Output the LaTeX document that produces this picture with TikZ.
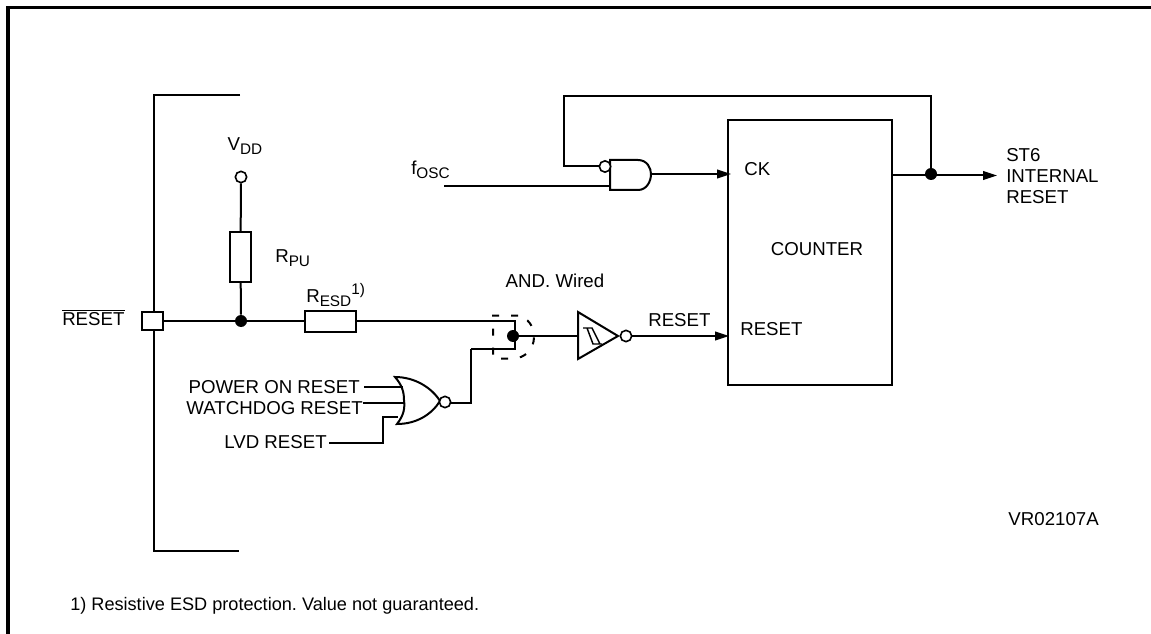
\documentclass[tikz,border=0pt]{standalone}
\usepackage{fontspec}
\setmainfont{Liberation Sans}
\usetikzlibrary{arrows.meta}
\frenchspacing
\tikzset{
  wire/.style={line width=1.5pt},
  sig/.style={wire,-{Triangle[length=10.5pt,width=6.5pt]}},
  box/.style={draw,line width=1.5pt,fill=white,minimum width=0pt,minimum height=0pt,inner sep=0pt,rectangle},
  bubble/.style={draw,circle,line width=1.2pt,fill=white,minimum size=8.5pt,inner sep=0pt},
  dot/.style={circle,fill=black,minimum size=9pt,inner sep=0pt},
  lab/.style={font=\fontsize{14pt}{15.75pt}\selectfont,inner sep=0pt},
  labl/.style={lab,anchor=west},
  labr/.style={lab,anchor=east},
}
\newcommand{\sbs}[1]{\raisebox{-0.35ex}{\fontsize{11.5pt}{14pt}\selectfont #1}}
\begin{document}
\begin{tikzpicture}[x=0.75pt,y=-0.75pt]
\useasboundingbox (0,0) rectangle (1151,634);
% frame
\coordinate (fa) at (8,634); \coordinate (fb) at (8,7.3); \coordinate (fc) at (1151,7.3);
\draw[line width=2.4pt] (fa) -- (fb) -- (fc);
% chip bracket
\coordinate (ba) at (240,95); \coordinate (bb) at (154,95); \coordinate (bc) at (154,551); \coordinate (bd) at (239,551);
\draw[wire] (ba) -- (bb) -- (bc) -- (bd);
% components
\node[box,minimum width=15.75pt,minimum height=13.5pt] (pad) at (152.5,321) {};
\node[dot] (j1) at (241,321) {};
\node[bubble] (vdd) at (241,177) {};
\node[box,minimum width=15.75pt,minimum height=37.5pt] (rpu) at (240.5,257) {};
\node[box,minimum width=38.25pt,minimum height=15.75pt] (resd) at (330.5,321.5) {};
\coordinate (w1) at (515,321);
\coordinate (w2) at (515,349);
\coordinate (w3) at (471,349);
\node[dot] (j2) at (513,336) {};
% wires
\draw[wire] (pad) -- (j1);
\draw[wire] (j1) -- (rpu);
\draw[wire] (rpu) -- (vdd);
\draw[wire] (j1) -- (resd.west |- j1);
\draw[wire] (resd.east |- w1) -- (w1) -- (w2) -- (w3);
% dashed wired-AND outline
\draw[line width=1.5pt,dash pattern=on 5.25pt off 9pt]
  (518,315.5) -- (493,315.5) -- (493,358.5) -- (513,358.5)
  .. controls (525,358.5) and (534,349) .. (534,337)
  .. controls (534,326) and (528,318) .. (518,315.5);
% Schmitt buffer
\coordinate (ta) at (578,312); \coordinate (tb) at (578,359); \coordinate (tc) at (618,336);
\draw[wire,line join=miter] (ta) -- (tb) -- (tc) -- cycle;
\draw[line width=1.1pt] (583,328) -- (592,328) -- (600,344) (587,328) -- (593,344) -- (602,344);
\node[bubble] (bo) at (626,336) {};
\draw[wire] (j2) -- (578,336);
\coordinate (rin) at (729,336);
\draw[sig] (bo) -- (rin);
% NOR
\draw[wire,fill=white] (395,377) .. controls (415,377) and (432,388) .. (440,401)
  .. controls (432,414) and (417,424) .. (397,424)
  .. controls (404,415) and (405,408) .. (404,400)
  .. controls (404,392) and (402,385) .. (395,377) -- cycle;
\node[bubble] (nor) at (445,402) {};
\coordinate (n1) at (471,403);
\draw[wire] (nor.east |- n1) -- (n1) -- (w3);
% NAND
\draw[wire,fill=white] (610,160) -- (638,160) .. controls (647,160) and (651,168) .. (651,174)
  .. controls (651,181) and (647,190) .. (638,190) -- (610,190) -- cycle;
\node[bubble] (nb) at (605,166.5) {};
\coordinate (fi) at (444,186);
\coordinate (nandin) at (610,186);
\draw[wire] (fi) -- (nandin);
% counter
\node[box,minimum width=123pt,minimum height=198.75pt] (cnt) at (810,252.5) {};
\node[labl] (ck) at (744,169) {CK};
\node[labl] (crs) at (740,329) {RESET};
\node[lab] (cc) at (817,249) {COUNTER};
\coordinate (nout) at (651,174);
\coordinate (ckin) at (731,174);
\draw[sig] (nout) -- (ckin);
\coordinate (cout) at (892,175.5);
\coordinate (st6) at (997,175.5);
\node[dot] (j3) at (931,174) {};
\draw[sig] (cout) -- (st6);
\coordinate (fb1) at (564,166.5);
\coordinate (fb2) at (564,96);
\coordinate (fb3) at (931,96);
\draw[wire] (nb) -- (fb1) -- (fb2) -- (fb3) -- (j3);
% NOR inputs
\node[labr] (por) at (360,387) {POWER ON RESET};
\node[labr] (wdg) at (363,408) {WATCHDOG RESET};
\node[labr] (lvd) at (327,442) {LVD RESET};
\coordinate (i1) at (403,387);
\coordinate (i2) at (404,403);
\coordinate (i3a) at (383,443);
\coordinate (i3b) at (383,417);
\coordinate (i3c) at (398,417);
\draw[wire] ([xshift=3pt]por.east |- i1) -- (i1);
\draw[wire] (wdg.east |- i2) -- (i2);
\draw[wire] ([xshift=1.5pt]lvd.east |- i3a) -- (i3a) -- (i3b) -- (i3c);
% labels
\node[labl] (rst) at (62,319) {RESET};
\draw[line width=0.8pt] (rst.west |- 0,310.5) -- (rst.east |- 0,310.5);
\node[lab] (lvdd) at (245,146) {V\sbs{DD}};
\node[labl] (lrpu) at (275,258) {R\sbs{PU}};
\node[labl] (lresd) at (306,295) {R\sbs{ESD}\raisebox{0.8ex}{\fontsize{11.5pt}{14pt}\selectfont 1)}};
\node[lab] (land) at (555,281) {AND. Wired};
\node[labl] (lrs) at (648,320) {RESET};
\node[labl] (fosc) at (411,170) {f\sbs{OSC}};
\node[labl,align=left] (ist) at (1006,176) {ST6\\INTERNAL\\RESET};
\node[labr] (vr) at (1099,519) {VR02107A};
\node[labl,font=\fontsize{13.6pt}{16pt}\selectfont] (note) at (70,606) {1) Resistive ESD protection. Value not guaranteed.};
\end{tikzpicture}
\end{document}
